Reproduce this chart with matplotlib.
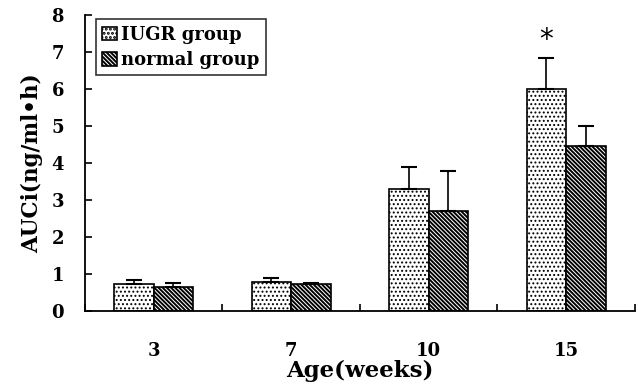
import matplotlib
matplotlib.use("Agg")
import matplotlib.pyplot as plt
import numpy as np

categories = ["3", "7", "10", "15"]
iugr = [0.72, 0.80, 3.30, 6.00]
iugr_err = [0.13, 0.09, 0.60, 0.85]
normal = [0.65, 0.73, 2.70, 4.45]
normal_err = [0.12, 0.03, 1.08, 0.55]

plt.rcParams['font.family'] = ['DejaVu Serif']
plt.rcParams['font.weight'] = 'bold'

fig = plt.figure(figsize=(6.38, 3.86), dpi=100)
ax = fig.add_axes([0.133, 0.194, 0.862, 0.767])

x = np.arange(len(categories))
w = 0.287
plt.rcParams['hatch.linewidth'] = 0.9
b1 = ax.bar(x - w/2, iugr, w, color='white', edgecolor='black', hatch='....', linewidth=1.2,
            label='IUGR group')
plt.rcParams['hatch.linewidth'] = 1.4
b2 = ax.bar(x + w/2, normal, w, color='white', edgecolor='black', hatch='\\' * 8, linewidth=1.2,
            label='normal group')
for p in b1.patches:
    try:
        p.set_hatch_linewidth(0.9)
    except AttributeError:
        pass
for p in b2.patches:
    try:
        p.set_hatch_linewidth(1.4)
    except AttributeError:
        pass
ax.errorbar(x - w/2, iugr, yerr=[np.zeros(4), iugr_err], fmt='none', ecolor='black',
            elinewidth=1.2, capsize=6, capthick=1.5)
ax.errorbar(x + w/2, normal, yerr=[np.zeros(4), normal_err], fmt='none', ecolor='black',
            elinewidth=1.2, capsize=6, capthick=1.5)
ax.text(x[3] - w/2, iugr[3] + iugr_err[3] + 0.1, '*', ha='center', va='bottom',
        fontsize=20, fontweight='normal', family='DejaVu Sans')

ax.set_xlim(-0.5, 3.5)
ax.set_ylim(0, 8)
ax.set_yticks(range(0, 9))
ax.set_xticks(x)
ax.set_xticklabels(categories)
ax.set_xticks(np.arange(-0.5, 4.0, 1.0), minor=True)
ax.tick_params(axis='x', which='major', length=0, pad=22, labelsize=13)
ax.tick_params(axis='x', which='minor', direction='in', length=5, width=1.2)
ax.tick_params(axis='y', direction='in', length=5, width=1.2, labelsize=13, pad=15)
for lab in ax.get_yticklabels() + ax.get_xticklabels():
    lab.set_fontweight('bold')
ax.spines['top'].set_visible(False)
ax.spines['right'].set_visible(False)
ax.spines['left'].set_linewidth(1.3)
ax.spines['bottom'].set_linewidth(1.3)

ax.set_xlabel('Age(weeks)', fontsize=16.5, fontweight='bold', labelpad=0)
ax.set_ylabel('AUCi(ng/ml•h)', fontsize=15.5, fontweight='bold', labelpad=6)

leg = ax.legend(loc='upper left', bbox_to_anchor=(0.02, 0.985), borderaxespad=0,
                fontsize=13, frameon=True,
                fancybox=False, edgecolor='black', handlelength=0.8, handleheight=0.8,
                handletextpad=0.25, borderpad=0.35, labelspacing=0.4)
leg.get_frame().set_linewidth(1.2)
for t in leg.get_texts():
    t.set_fontweight('bold')

fig.savefig('out.png', dpi=100)
